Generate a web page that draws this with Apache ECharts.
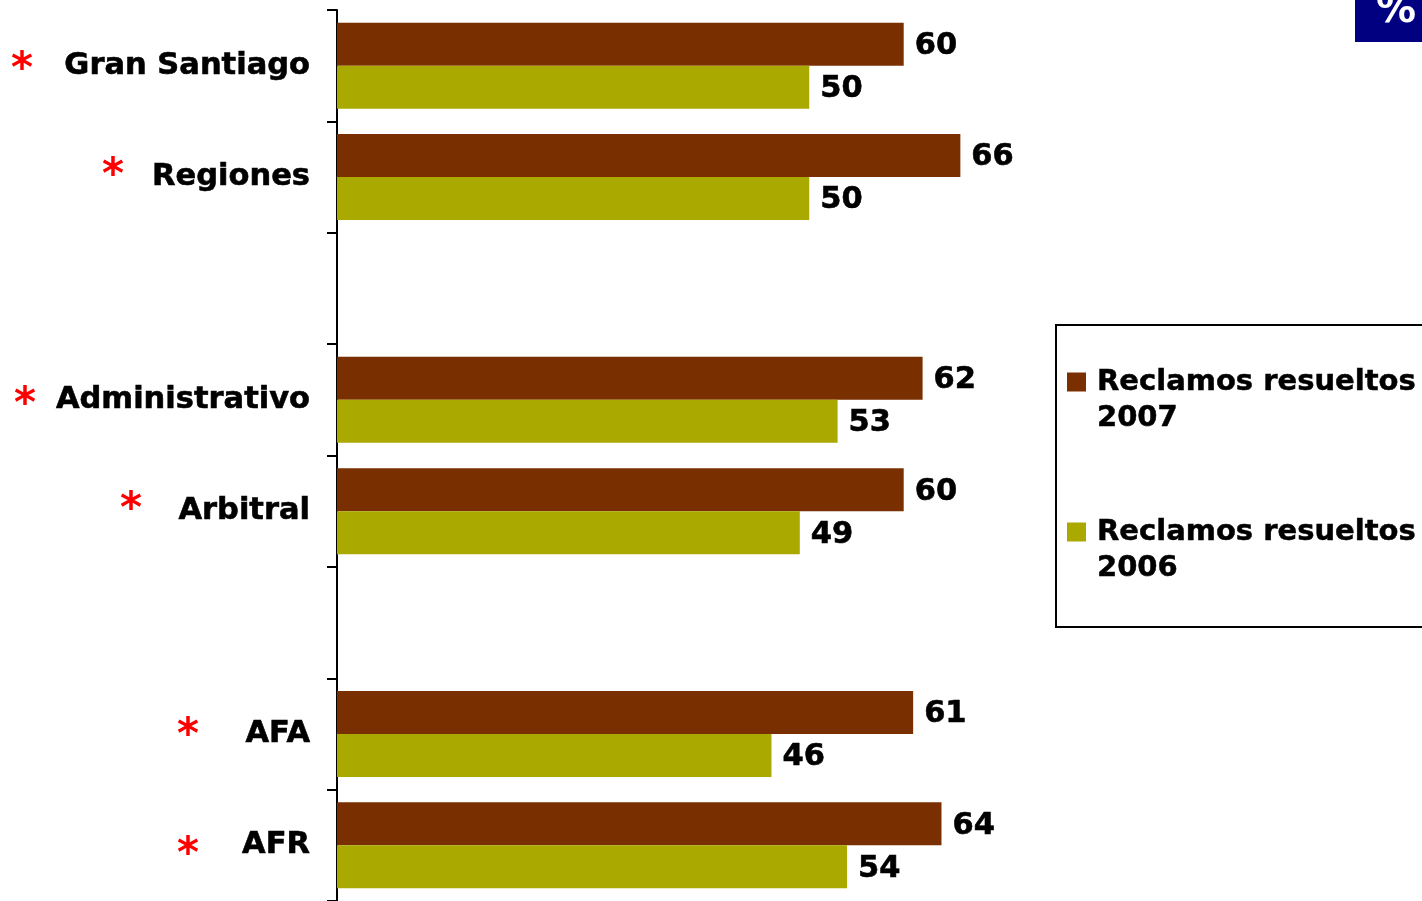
<!DOCTYPE html>
<html>
<head>
<meta charset="utf-8">
<script src="https://cdn.jsdelivr.net/npm/echarts@6/dist/echarts.min.js"></script>
<style>
  html, body { margin: 0; padding: 0; background: #ffffff; }
  #chart { width: 1422px; height: 901px; }
</style>
</head>
<body>
<div id="chart"></div>
<script>
// Resolved complaints (%) by office / procedure, 2007 vs 2006.
// Empty strings are spacer rows separating the three groups.
const categories = ['Gran Santiago', 'Regiones', '', 'Administrativo', 'Arbitral', '', 'AFA', 'AFR'];
const resueltos2007 = [60, 66, null, 62, 60, null, 61, 64];
const resueltos2006 = [50, 50, null, 53, 49, null, 46, 54];
const seriesNames = ['Reclamos resueltos 2007', 'Reclamos resueltos 2006'];
const starred = [true, true, false, true, true, false, true, true];

const FONT = '"DejaVu Sans", Verdana, sans-serif';
const COLOR_2007 = '#7a2f00';
const COLOR_2006 = '#aaa900';

const chart = echarts.init(document.getElementById('chart'), null, { renderer: 'canvas' });

const valueLabel = {
  show: true,
  position: 'right',
  distance: 11,
  offset: [0, 2],
  color: '#000',
  fontFamily: FONT,
  fontWeight: 'bold',
  fontSize: 30.5,
  textBorderColor: '#000',
  textBorderWidth: 0.6
};

chart.setOption({
  animation: false,
  backgroundColor: '#ffffff',
  grid: { left: 337, right: 140.5, top: 10, bottom: 0, containLabel: false },
  xAxis: {
    type: 'value',
    min: 0,
    max: 100,
    show: false
  },
  yAxis: {
    type: 'category',
    data: categories,
    inverse: true,
    axisLine: { show: true, lineStyle: { color: '#000', width: 2 } },
    axisTick: { show: true, length: 10, lineStyle: { color: '#000', width: 2 } },
    axisLabel: {
      margin: 27,
      color: '#000',
      fontFamily: FONT,
      fontWeight: 'bold',
      fontSize: 30.5,
      textBorderColor: '#000',
      textBorderWidth: 0.6
    },
    splitLine: { show: false }
  },
  legend: {
    orient: 'vertical',
    left: 1056,
    top: 325,
    itemWidth: 19,
    itemHeight: 19,
    itemGap: 42,
    padding: [3, 40, 41, 11],
    borderColor: '#000',
    borderWidth: 2,
    icon: 'rect',
    // blank first line keeps the name's first line level with the colour key
    formatter: name => '\n' + name.replace(/ (\d{4})$/, '\n$1'),
    textStyle: {
      color: '#000',
      fontFamily: FONT,
      fontWeight: 'bold',
      fontSize: 29,
      lineHeight: 36,
      padding: [0, 0, 0, 6],
      textBorderColor: '#000',
      textBorderWidth: 0.5
    },
    data: seriesNames
  },
  series: [
    {
      name: seriesNames[0],
      type: 'bar',
      data: resueltos2007,
      barWidth: 43,
      barGap: '0%',
      itemStyle: { color: COLOR_2007 },
      label: valueLabel
    },
    {
      name: seriesNames[1],
      type: 'bar',
      data: resueltos2006,
      barWidth: 43,
      itemStyle: { color: COLOR_2006 },
      label: valueLabel
    }
  ]
});

// Red asterisks placed beside the category names, plus the "%" unit badge.
const starX = [22, 113, null, 25, 131, null, 188, 188];
const starDy = [-3, -8, 0, -2, -8, 0, -5, 3];
const graphics = [];
categories.forEach((cat, i) => {
  if (!starred[i]) return;
  const y = chart.convertToPixel({ yAxisIndex: 0 }, i);
  graphics.push({
    type: 'text',
    x: starX[i],
    y: y + starDy[i] + 8,
    style: {
      text: '*',
      fill: '#ff0000',
      font: 'bold 42px ' + FONT,
      align: 'center',
      verticalAlign: 'middle'
    }
  });
});
graphics.push({
  type: 'rect',
  shape: { x: 1355, y: 0, width: 70, height: 42 },
  style: { fill: '#000080' }
});
graphics.push({
  type: 'text',
  x: 1376,
  y: 32,
  style: {
    text: '%',
    fill: '#ffffff',
    font: 'bold 40px ' + FONT,
    align: 'left',
    verticalAlign: 'bottom'
  }
});
chart.setOption({ graphic: graphics });
</script>
</body>
</html>
